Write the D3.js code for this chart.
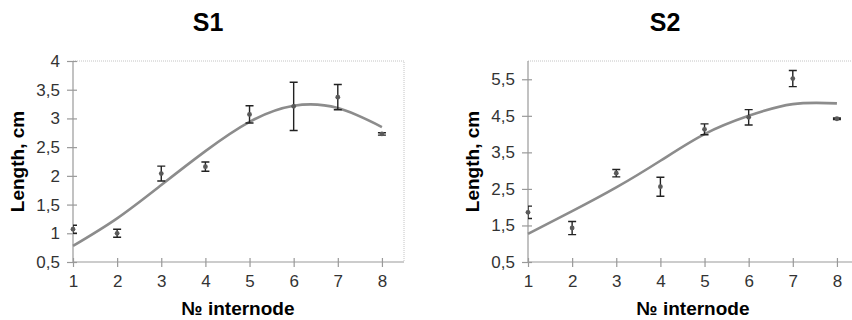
<!DOCTYPE html>
<html>
<head>
<meta charset="utf-8">
<script src="https://cdn.jsdelivr.net/npm/d3@7"></script>
<style>
  body { margin: 0; background: #fff; }
  svg { display: block; font-family: "Liberation Sans", Arial, sans-serif; }
</style>
</head>
<body>
<svg id="chart" width="852" height="320"></svg>
<script>
// data
const internodes = [1, 2, 3, 4, 5, 6, 7, 8];

const s1Mean  = [1.07, 1.00, 2.04, 2.16, 3.07, 3.21, 3.37, 2.73];
const s1Err   = [0.07, 0.07, 0.13, 0.08, 0.15, 0.42, 0.22, 0.02];
const s1Trend = [0.78, 1.26, 1.84, 2.43, 2.94, 3.22, 3.18, 2.85];
const s1Ticks = [0.5, 1, 1.5, 2, 2.5, 3, 3.5, 4];

const s2Mean  = [1.86, 1.43, 2.93, 2.56, 4.13, 4.46, 5.52, 4.42];
const s2Err   = [0.17, 0.18, 0.10, 0.26, 0.15, 0.21, 0.22, 0.02];
const s2Trend = [1.27, 1.89, 2.54, 3.27, 4.00, 4.50, 4.82, 4.84];
const s2Ticks = [0.5, 1.5, 2.5, 3.5, 4.5, 5.5];

const svg = d3.select("#chart");
const fmt = d => String(d).replace(".", ",");

function drawPanel(opts) {
  const width = 331, height = 201;
  const g = svg.append("g")
    .attr("transform", `translate(${opts.left},${opts.top})`);

  const x = d3.scaleLinear().domain([1, 8.5]).range([0, width]);
  const y = d3.scaleLinear().domain(opts.yDomain).range([height, 0]);

  const clipId = "clip-" + opts.name;
  g.append("clipPath").attr("id", clipId)
    .append("rect").attr("width", width).attr("height", height);

  // dotted frame top / right
  g.append("path")
    .attr("d", `M0,0H${width}V${height}`)
    .attr("fill", "none")
    .attr("stroke", "#c4c4c4")
    .attr("stroke-dasharray", "1,1");

  // axes
  const yAxis = g.append("g")
    .call(d3.axisLeft(y).tickValues(opts.ticks).tickFormat(fmt).tickSize(5).tickPadding(8));
  const xAxis = g.append("g")
    .attr("transform", `translate(0,${height})`)
    .call(d3.axisBottom(x).tickValues(internodes).tickSize(5).tickPadding(8));

  [yAxis, xAxis].forEach(a => {
    a.select(".domain").attr("stroke", "#999").attr("stroke-width", 1.2);
    a.selectAll(".tick line").attr("stroke", "#999").attr("stroke-width", 1.2);
    a.selectAll("text").attr("fill", "#333").style("font-size", "17px");
  });
  yAxis.select(".domain").attr("d", `M0,${height}V0`);
  xAxis.select(".domain").attr("d", `M0,0H${width}`);
  yAxis.selectAll(".tick line").attr("x2", -6).attr("x1", 4);
  xAxis.selectAll(".tick line").attr("y1", -4).attr("y2", 5);

  const rows = internodes.map((n, i) => ({
    n, mean: opts.mean[i], err: opts.err[i], trend: opts.trend[i]
  }));

  // trend line
  g.append("path")
    .datum(rows)
    .attr("fill", "none")
    .attr("stroke", "#8c8c8c")
    .attr("stroke-width", 2.6)
    .attr("d", d3.line().curve(d3.curveNatural)
      .x(d => x(d.n))
      .y(d => y(d.trend)));

  // error bars
  const bars = g.append("g")
    .attr("clip-path", `url(#${clipId})`)
    .attr("stroke", "#222")
    .attr("stroke-width", 1.4);
  const cap = 4;
  rows.forEach(d => {
    const cx = x(d.n), lo = y(d.mean - d.err), hi = y(d.mean + d.err);
    bars.append("path")
      .attr("fill", "none")
      .attr("d", `M${cx - cap},${hi}H${cx + cap}M${cx},${hi}V${lo}M${cx - cap},${lo}H${cx + cap}`);
  });

  // points
  g.selectAll(".dot")
    .data(rows)
    .join("circle")
    .attr("class", "dot")
    .attr("cx", d => x(d.n))
    .attr("cy", d => y(d.mean))
    .attr("r", 2.4)
    .attr("fill", "#5a5a5a");

  // labels
  g.append("text")
    .attr("x", opts.titleX)
    .attr("y", -30)
    .attr("text-anchor", "middle")
    .style("font-size", "25px")
    .style("font-weight", "bold")
    .text(opts.name);

  g.append("text")
    .attr("x", width / 2 - 0.5)
    .attr("y", height + 53)
    .attr("text-anchor", "middle")
    .style("font-size", "19px")
    .style("font-weight", "bold")
    .text("№ internode");

  g.append("text")
    .attr("transform", "rotate(-90)")
    .attr("x", -height / 2)
    .attr("y", -49)
    .attr("text-anchor", "middle")
    .style("font-size", "19px")
    .style("font-weight", "bold")
    .text("Length, cm");
}

drawPanel({ name: "S1", left: 73, top: 61, yDomain: [0.5, 4], ticks: s1Ticks,
  mean: s1Mean, err: s1Err, trend: s1Trend, titleX: 135 });
drawPanel({ name: "S2", left: 528, top: 61, yDomain: [0.5, 6], ticks: s2Ticks,
  mean: s2Mean, err: s2Err, trend: s2Trend, titleX: 137 });
</script>
</body>
</html>
